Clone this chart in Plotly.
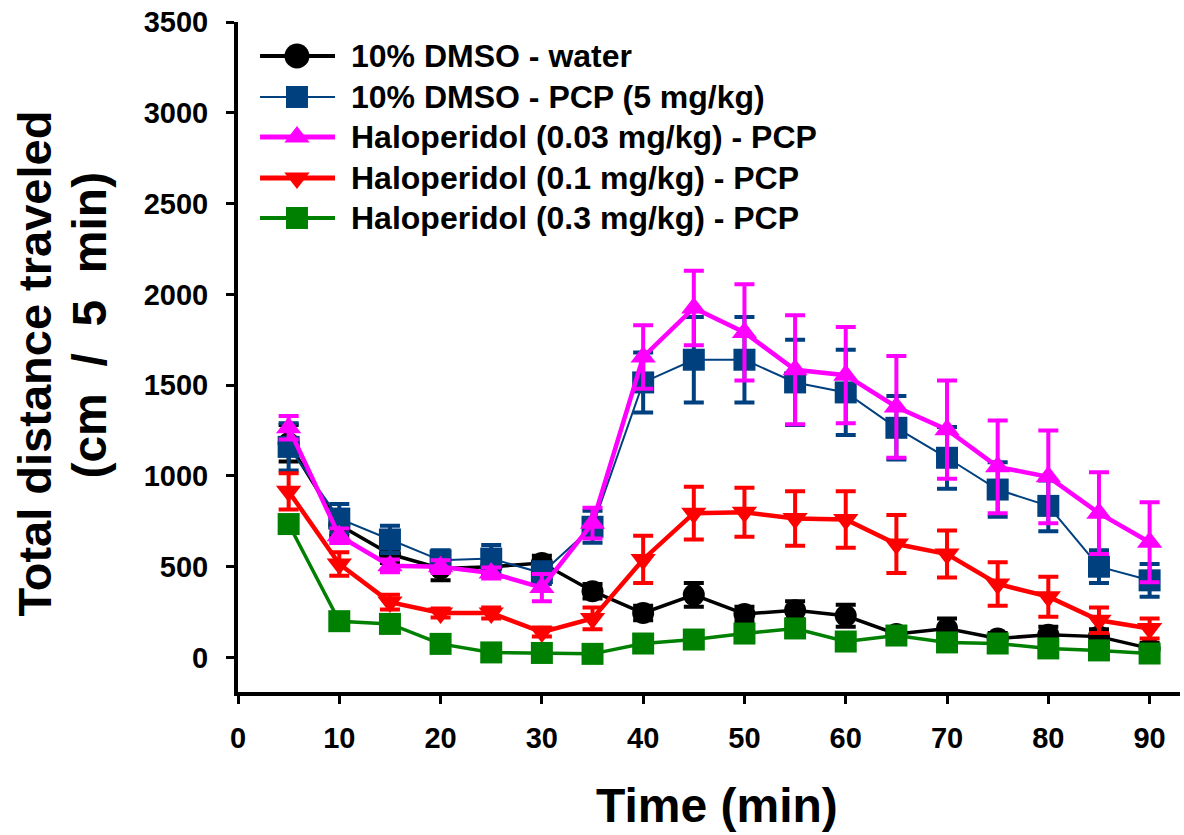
import plotly.graph_objects as go

time_min = [5, 10, 15, 20, 25, 30, 35, 40, 45, 50, 55, 60, 65, 70, 75, 80, 85, 90]

dmso_water = [1180, 730, 570, 490, 500, 520, 365, 245, 345, 240, 260, 230, 130, 160, 105, 125, 115, 50]
dmso_water_err = [100, 60, 50, 65, 40, 40, 40, 40, 65, 40, 50, 60, 30, 55, 30, 45, 40, 30]

dmso_pcp = [1160, 765, 650, 535, 545, 465, 720, 1515, 1640, 1640, 1515, 1460, 1265, 1100, 925, 835, 500, 425]
dmso_pcp_err = [130, 80, 75, 55, 75, 60, 88, 165, 235, 235, 235, 235, 175, 170, 150, 140, 90, 90]

halo003 = [1265, 670, 505, 500, 465, 385, 740, 1655, 1925, 1790, 1585, 1555, 1380, 1255, 1050, 995, 795, 635]
halo003_err = [65, 40, 35, 35, 30, 75, 85, 175, 205, 265, 300, 265, 280, 270, 255, 255, 225, 220]

halo01 = [915, 515, 305, 245, 245, 140, 215, 540, 795, 800, 765, 760, 625, 570, 405, 335, 205, 160]
halo01_err = [100, 65, 40, 25, 30, 25, 60, 130, 145, 135, 150, 155, 160, 130, 120, 110, 70, 55]

halo03 = [735, 200, 185, 75, 28, 25, 20, 77, 99, 132, 160, 88, 121, 83, 77, 50, 39, 22]
halo03_err = [30, 25, 25, 20, 15, 15, 15, 20, 20, 25, 25, 20, 20, 20, 20, 20, 15, 15]

names = [
    "10% DMSO - water",
    "10% DMSO - PCP (5 mg/kg)",
    "Haloperidol (0.03 mg/kg) - PCP",
    "Haloperidol (0.1 mg/kg) - PCP",
    "Haloperidol (0.3 mg/kg) - PCP",
]
x_ticks = [0, 10, 20, 30, 40, 50, 60, 70, 80, 90]
y_ticks = [0, 500, 1000, 1500, 2000, 2500, 3000, 3500]

series = [dmso_water, dmso_pcp, halo003, halo01, halo03]
errors = [dmso_water_err, dmso_pcp_err, halo003_err, halo01_err, halo03_err]
colors = ["#000000", "#00407F", "#FF00FF", "#FF0000", "#008000"]
symbols = ["circle", "square", "triangle-up", "triangle-down", "square"]
line_widths = [3.5, 2, 4.5, 4.5, 3.5]
marker_sizes = [22, 22, 22, 22, 22]
legend_marker_sizes = [25, 22, 22, 22, 22]
legend_line_widths = [4, 2, 5, 5, 4]

FONT = "Liberation Sans, Arial, Helvetica, sans-serif"

fig = go.Figure()
for i in range(5):
    fig.add_trace(go.Scatter(
        x=time_min, y=series[i], name=names[i], mode="lines+markers",
        showlegend=False,
        line=dict(color=colors[i], width=line_widths[i]),
        marker=dict(symbol=symbols[i], size=marker_sizes[i], color=colors[i],
                    line=dict(width=0)),
        error_y=dict(type="data", array=errors[i], visible=True,
                     color=colors[i], thickness=4, width=10),
        cliponaxis=False,
    ))

# custom legend drawn on an overlay axis spanning the plot area (0..1)
leg_rows = [0.9493, 0.8881, 0.8284, 0.7672, 0.7075]
leg_x0, leg_xm, leg_x1, leg_tx = 0.0234, 0.0626, 0.103, 0.1178
annotations = []
for i in range(5):
    fig.add_trace(go.Scatter(
        x=[leg_x0, leg_x1], y=[leg_rows[i], leg_rows[i]], mode="lines",
        xaxis="x2", yaxis="y2", showlegend=False, hoverinfo="skip",
        line=dict(color=colors[i], width=legend_line_widths[i]),
    ))
    fig.add_trace(go.Scatter(
        x=[leg_xm], y=[leg_rows[i]], mode="markers",
        xaxis="x2", yaxis="y2", showlegend=False, hoverinfo="skip",
        marker=dict(symbol=symbols[i], size=legend_marker_sizes[i], color=colors[i],
                    line=dict(width=0)),
    ))
    annotations.append(dict(
        text="<b>" + names[i] + "</b>", xref="paper", yref="paper",
        x=leg_tx, y=leg_rows[i], xanchor="left", yanchor="middle", showarrow=False,
        font=dict(family=FONT, size=32, color="black"),
    ))

annotations += [
    dict(text="<b>Time (min)</b>", xref="paper", yref="paper", x=0.509, y=-0.170,
         xanchor="center", yanchor="middle", showarrow=False,
         font=dict(family=FONT, size=48, color="black")),
    dict(text="<b>Total distance traveled</b>", xref="paper", yref="paper",
         x=-0.2160, y=0.4896, xanchor="center", yanchor="middle", showarrow=False,
         textangle=-90, font=dict(family=FONT, size=47, color="black")),
    dict(text="<b>(cm\u00a0\u00a0/\u00a0\u00a05\u00a0\u00a0min)</b>", xref="paper", yref="paper",
         x=-0.1575, y=0.5478, xanchor="center", yanchor="middle", showarrow=False,
         textangle=-90, font=dict(family=FONT, size=48, color="black")),
]

fig.update_layout(
    width=1184, height=835,
    margin=dict(l=238, r=4, t=22, b=143),
    plot_bgcolor="white", paper_bgcolor="white",
    font=dict(family=FONT, color="black"),
    showlegend=False,
    xaxis=dict(
        range=[0, 93], tickmode="array", tickvals=x_ticks,
        ticks="outside", ticklen=8, tickwidth=3, tickcolor="black",
        showline=True, linewidth=4, linecolor="black", mirror=False,
        showgrid=False, zeroline=False, ticklabelstandoff=9,
        tickfont=dict(family=FONT, size=29, color="black", weight="bold"),
    ),
    yaxis=dict(
        range=[-190, 3500], tickmode="array", tickvals=y_ticks,
        ticks="outside", ticklen=8, tickwidth=3, tickcolor="black",
        showline=True, linewidth=4, linecolor="black", mirror=False,
        showgrid=False, zeroline=False, ticklabelstandoff=12,
        tickfont=dict(family=FONT, size=29, color="black", weight="bold"),
    ),
    xaxis2=dict(overlaying="x", range=[0, 1], visible=False, fixedrange=True),
    yaxis2=dict(overlaying="y", range=[0, 1], visible=False, fixedrange=True),
    annotations=annotations,
)

fig.write_html("out.html", post_script="document.body.style.margin='0px';",
               config={"displayModeBar": False})
